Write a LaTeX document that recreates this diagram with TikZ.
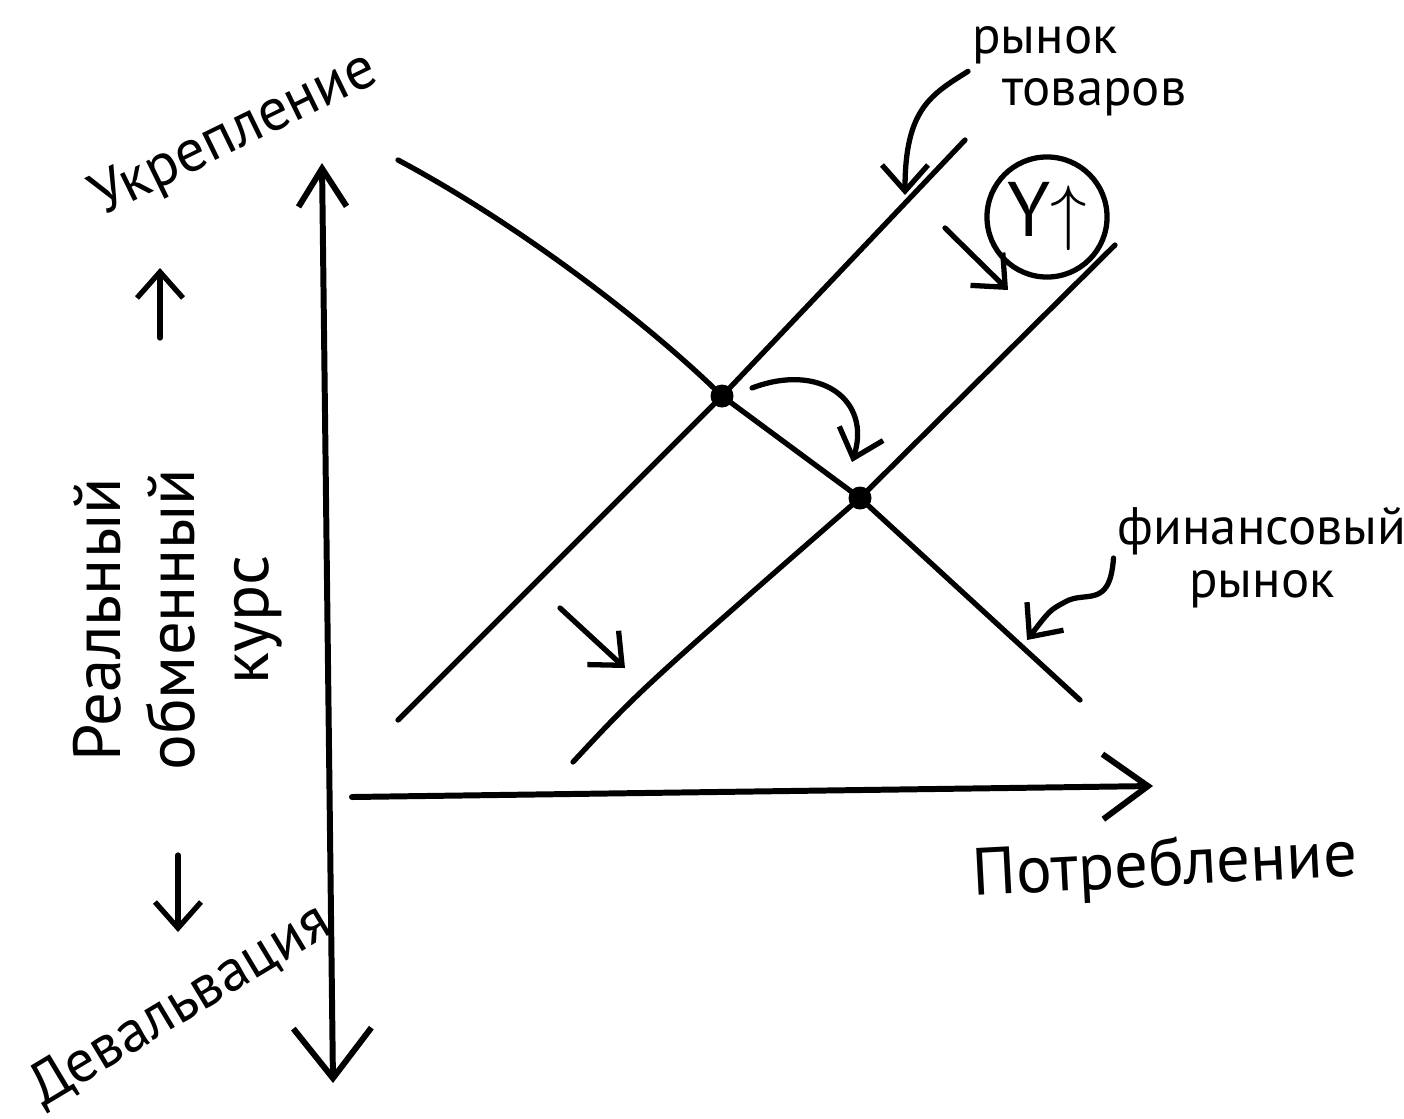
\documentclass[tikz,border=0pt]{standalone}
\usepackage{fontspec}
\setmainfont{PT Sans}
\usetikzlibrary{arrows.meta}

\tikzset{
  ink/.style={line width=1.5pt, line cap=round, line join=round},
  axis/.style={ink, line width=1.7pt},
  tip/.style={-{Straight Barb[length=2.6mm,width=4.6mm]}},
  eqpt/.style={circle, fill, inner sep=0pt, minimum size=2.3mm},
  lbl/.style={inner sep=1pt, font=\fontsize{19}{21}\selectfont},
  small lbl/.style={inner sep=1pt, font=\fontsize{15}{15}\selectfont}
}

\begin{document}
\begin{tikzpicture}[x=0.01cm, y=-0.01cm]
\useasboundingbox (0,0) rectangle (1404,1118);

% axes
\coordinate (ytop) at (322,163);
\coordinate (ybot) at (333,1083);
\coordinate (xleft) at (352,797);
\coordinate (xright) at (1153,786);
\draw[axis, {Straight Barb[length=3.8mm,width=4.8mm]}-{Straight Barb[length=5mm,width=7.8mm]}] (ytop) -- (ybot);
\draw[axis, -{Straight Barb[length=4.5mm,width=6.5mm]}] (xleft) -- (xright);

% equilibrium points
\node[eqpt] (E1) at (722,396) {};
\node[eqpt] (E2) at (860,498) {};

% financial market
\coordinate (fm0) at (398,160);
\coordinate (fm1) at (1080,700);
\draw[ink] (fm0) .. controls (520,225) and (650,325) .. (E1.center) -- (E2.center) -- (fm1);

% goods market, before and after
\coordinate (gm0) at (398,720);
\coordinate (gm1) at (965,140);
\draw[ink] (gm0) -- (E1.center) -- (gm1);
\coordinate (gn0) at (573,762);
\coordinate (gn1) at (1115,245);
\draw[ink] (gn0) .. controls (640,690) .. (E2.center) -- (gn1);

% shifts
\coordinate (sh0) at (752,388);
\coordinate (sh1) at (852,462);
\draw[ink, tip] (sh0) .. controls (820,362) and (872,400) .. (sh1);
\coordinate (up0) at (945,228);
\coordinate (up1) at (1008,290);
\draw[ink, tip] (up0) -- (up1);
\coordinate (lo0) at (560,608);
\coordinate (lo1) at (625,668);
\draw[ink, tip] (lo0) -- (lo1);

% income up
\node[draw, ink, circle, minimum size=1.2cm, inner sep=0pt, font=\fontsize{22}{22}\selectfont] (Yup) at (1047,217) {Y$\uparrow$};

% market labels
\node[small lbl, align=left, anchor=north west] (goods) at (968,22) {рынок\\\hspace{0.3cm}товаров};
\draw[ink, tip] (goods.west) .. controls (930,95) and (905,110) .. (905,195);
\node[small lbl, align=center] (fin) at (1262,558) {финансовый\\рынок};
\draw[ink, tip] (fin.west) .. controls (1110,610) and (1085,590) .. (1065,602) .. controls (1050,610) .. (1027,640);

% axis labels
\node[lbl, rotate=3] (cons) at (1165,868) {Потребление};
\node[lbl, rotate=26, font=\fontsize{17}{17}\selectfont] (strong) at (235,135) {Укрепление};
\node[lbl, rotate=90, align=center] (rate) at (178,620) {Реальный\\обменный\\курс};
\node[lbl, rotate=31, font=\fontsize{17}{17}\selectfont] (deval) at (180,1005) {Девальвация};
\coordinate (ua0) at (160,338);
\coordinate (ua1) at (160,268);
\draw[ink, tip] (ua0) -- (ua1);
\coordinate (da0) at (178,855);
\coordinate (da1) at (178,932);
\draw[ink, tip] (da0) -- (da1);
\end{tikzpicture}
\end{document}
